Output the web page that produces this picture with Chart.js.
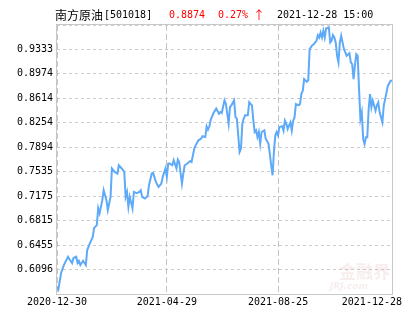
<!DOCTYPE html>
<html>
<head>
<meta charset="utf-8">
<script src="https://cdn.jsdelivr.net/npm/chart.js@4/dist/chart.umd.min.js"></script>
<style>
  html, body { margin: 0; padding: 0; background: #ffffff; }
  #wrap { width: 415px; height: 330px; }
</style>
</head>
<body>
<div id="wrap"><canvas id="c" width="415" height="330"></canvas></div>
<script>
// ---- data ----
const fundName = '南方原油';
const fundCode = '[501018]';
const lastNav = '0.8874';
const lastChange = '0.27%';
const lastArrow = '↑';
const lastTime = '2021-12-28 15:00';

// position of each sample along the trading-day axis
const days = [0,1,3,5,8,9,11,12,14,15,16,17,19,21,22,24,26,27,29,30,31,33,34,36,37,39,40,42,44,45,47,49,50,51,52,53,55,56,58,60,61,62,64,66,67,69,70,72,74,76,77,79,80,81,82,84,85,87,88,89,91,92,93,95,97,98,100,101,103,105,106,108,109,110,111,112,114,116,118,119,120,122,123,125,126,127,129,130,131,133,134,135,136,137,139,140,142,143,144,145,146,147,148,149,151,152,154,155,156,157,158,159,160,161,162,164,165,166,167,168,170,171,172,173,174,176,177,178,179,180,182,183,184,186,187,188,189,190,191,192,193,194,195,196,198,199,200,201,202,203,204,205,206,207,209,210,211,213,214,215,216,217,218,219,220,221,222,223,224,225,226,227,228,229,230,232,233,234,235,237,238,239,240,241,243,244];
// unit net value
const navs = [0.5844,0.5805,0.6045,0.6162,0.6284,0.6250,0.6191,0.6265,0.6284,0.6191,0.6221,0.6162,0.6225,0.6162,0.6382,0.6485,0.6573,0.6705,0.6749,0.6999,0.6925,0.7116,0.7263,0.7116,0.6969,0.7165,0.7582,0.7532,0.7508,0.7630,0.7586,0.7532,0.7165,0.7234,0.7018,0.7165,0.6994,0.7238,0.7219,0.7238,0.7263,0.7165,0.7141,0.7175,0.7336,0.7508,0.7517,0.7385,0.7311,0.7361,0.7458,0.7582,0.7458,0.7655,0.7655,0.7630,0.7703,0.7582,0.7714,0.7678,0.7361,0.7508,0.7630,0.7655,0.7693,0.7678,0.7875,0.7923,0.7997,0.8022,0.8056,0.8045,0.8203,0.8154,0.8203,0.8301,0.8398,0.8463,0.8389,0.8413,0.8398,0.8584,0.8536,0.8242,0.8486,0.8511,0.8584,0.8339,0.8316,0.7825,0.7875,0.8242,0.8316,0.8364,0.8364,0.8559,0.8511,0.8290,0.8119,0.8144,0.8045,0.8119,0.7948,0.8119,0.8144,0.8022,0.7948,0.7801,0.7630,0.7483,0.7825,0.8070,0.8119,0.8070,0.8192,0.8203,0.8139,0.8286,0.8242,0.8163,0.8261,0.8139,0.8286,0.8334,0.8530,0.8511,0.8530,0.8676,0.8726,0.8897,0.8858,0.8878,0.9337,0.9396,0.9410,0.9435,0.9460,0.9543,0.9509,0.9582,0.9509,0.9607,0.9509,0.9641,0.9656,0.9435,0.9460,0.9543,0.9509,0.9435,0.9240,0.9142,0.9435,0.9534,0.9337,0.9289,0.9240,0.9278,0.9142,0.9117,0.8897,0.9098,0.9264,0.9240,0.8750,0.8310,0.8408,0.8016,0.7943,0.8041,0.8041,0.8457,0.8676,0.8482,0.8580,0.8433,0.8511,0.8555,0.8408,0.8261,0.8506,0.8603,0.8702,0.8800,0.8874,0.8874];

// axis ticks
const xTickPos = [0, 80, 161, 244];
const xTickLabels = ['2020-12-30', '2021-04-29', '2021-08-25', '2021-12-28'];
const yTickLabels = ['0.6096','0.6455','0.6815','0.7175','0.7535','0.7894','0.8254','0.8614','0.8974','0.9333'];
const yMin = 0.57363;
const yMax = 0.96927;

// ---- drawing ----
const MONO = "'DejaVu Sans Mono', 'Liberation Mono', monospace";
const CJK = "'Noto Sans CJK SC', 'Noto Sans', sans-serif";

const points = days.map((d, i) => ({ x: d, y: navs[i] }));
const yTicks = [yMin].concat(yTickLabels.map(Number), [yMax]);

const overlay = {
  id: 'overlay',
  beforeDatasetsDraw(chart) {
    const ctx = chart.ctx, a = chart.chartArea;
    ctx.save();
    ctx.fillStyle = 'rgba(225,175,175,0.22)';
    ctx.font = "bold 17px " + CJK;
    ctx.textAlign = 'right';
    ctx.textBaseline = 'alphabetic';
    ctx.fillText('金融界', a.right - 2, a.bottom - 16);
    ctx.font = "italic bold 9px 'DejaVu Sans', sans-serif";
    ctx.textAlign = 'left';
    ctx.fillText('JRJ.com', a.right - 62, a.bottom - 5);
    ctx.restore();
  },
  afterDraw(chart) {
    const ctx = chart.ctx, a = chart.chartArea, xs = chart.scales.x;
    ctx.save();
    // frame
    ctx.strokeStyle = '#c8c8c8';
    ctx.lineWidth = 1;
    ctx.setLineDash([]);
    ctx.strokeRect(a.left - 0.5, a.top - 0.5, a.right - a.left + 1, a.bottom - a.top + 1);
    // header
    ctx.textBaseline = 'middle';
    ctx.textAlign = 'left';
    ctx.fillStyle = '#000';
    ctx.font = '12px ' + CJK;
    ctx.fillText(fundName, 55, 15);
    ctx.font = '10px ' + MONO;
    ctx.fillText(fundCode, 104, 15);
    ctx.fillStyle = '#ff0000';
    ctx.fillText(lastNav, 169, 15);
    ctx.fillText(lastChange, 218, 15);
    ctx.font = '12px ' + CJK;
    ctx.fillText(lastArrow, 253, 15);
    ctx.fillStyle = '#000';
    ctx.font = '10px ' + MONO;
    ctx.fillText(lastTime, 277, 15);
    // x tick labels
    ctx.textAlign = 'center';
    xTickPos.forEach((v, i) => {
      const w = ctx.measureText(xTickLabels[i]).width;
      let px = xs.getPixelForValue(v);
      px = Math.min(px, 402 - w / 2);
      ctx.fillText(xTickLabels[i], px, 302);
    });
    ctx.restore();
  }
};

new Chart(document.getElementById('c'), {
  type: 'line',
  data: {
    datasets: [{
      data: points,
      borderColor: '#5eaaf8',
      borderWidth: 2,
      pointRadius: 0,
      tension: 0,
      fill: false
    }]
  },
  options: {
    responsive: false,
    animation: false,
    events: [],
    layout: { padding: { top: 25, right: 23, left: 0, bottom: 0 } },
    plugins: { legend: { display: false }, tooltip: { enabled: false }, title: { display: false } },
    scales: {
      x: {
        type: 'linear',
        min: 0,
        max: 244,
        afterBuildTicks: s => { s.ticks = xTickPos.map(v => ({ value: v })); },
        afterFit: s => { s.height = 36; },
        ticks: { display: false },
        grid: { color: '#c4c4c4', lineWidth: 1, drawTicks: false },
        border: { display: false, dash: [6, 3] }
      },
      y: {
        type: 'linear',
        min: yMin,
        max: yMax,
        afterBuildTicks: s => { s.ticks = yTicks.map(v => ({ value: v })); },
        afterFit: s => { s.width = 57; },
        ticks: {
          padding: 4,
          color: '#000',
          font: { family: MONO, size: 10 },
          callback: (v, i) => (i > 0 && i <= yTickLabels.length) ? yTickLabels[i - 1] : ''
        },
        grid: { color: '#cccccc', lineWidth: 1, drawTicks: false },
        border: { display: false, dash: [3, 3] }
      }
    }
  },
  plugins: [overlay]
});
</script>
</body>
</html>
